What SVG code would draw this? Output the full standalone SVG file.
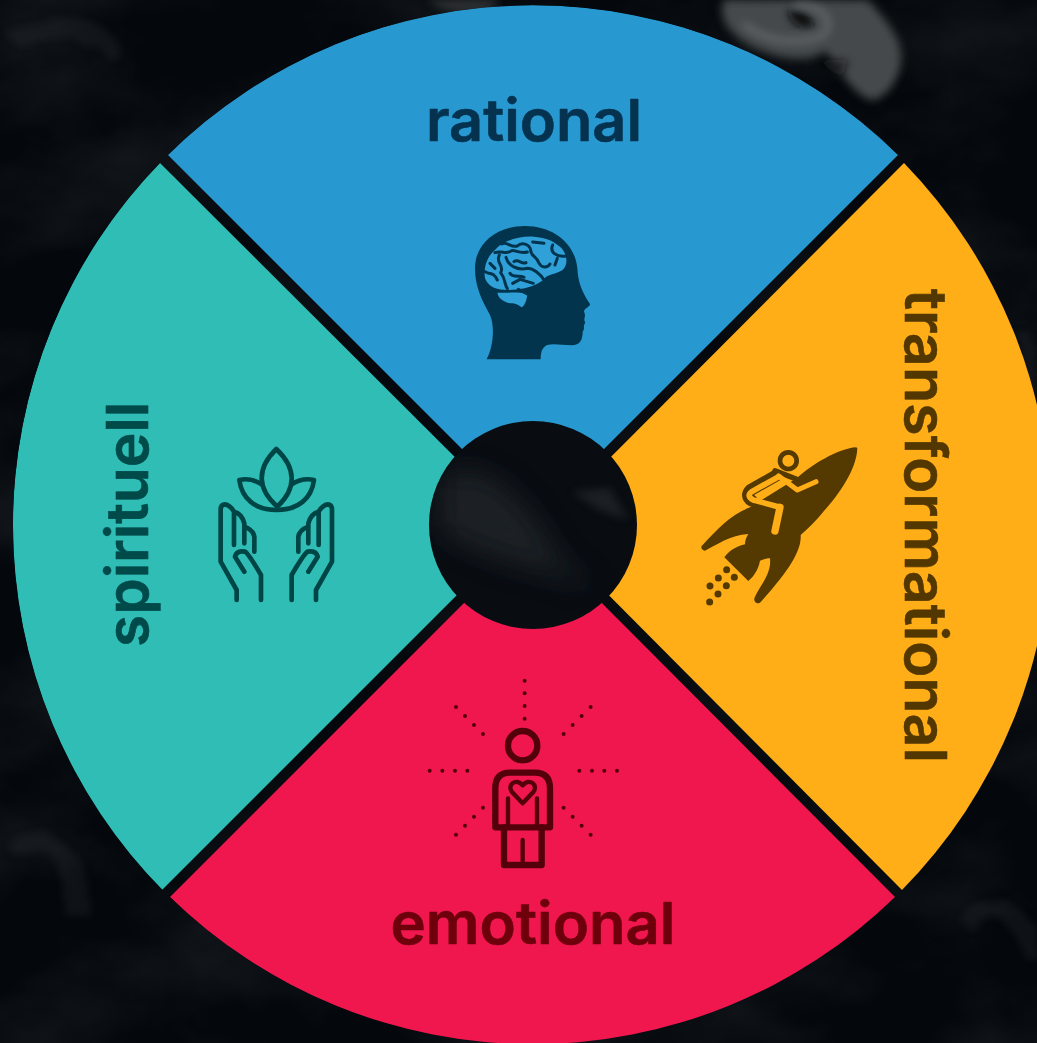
<svg xmlns="http://www.w3.org/2000/svg" width="1037" height="1043" viewBox="0 0 1037 1043">
<style>
.lbl{font-family:"Inter","Liberation Sans",sans-serif;font-weight:600;font-size:58px;stroke-width:.6px;stroke-linejoin:round}
.ln{fill:none;stroke-linecap:round;stroke-linejoin:round}
.smoke{fill:none;stroke:#8a9094;stroke-linecap:round}
</style>
<defs>
<filter id="fog" x="0" y="0" width="100%" height="100%"><feTurbulence type="fractalNoise" baseFrequency="0.006 0.009" numOctaves="5" seed="11"/><feColorMatrix values="0 0 0 0 0.62 0 0 0 0 0.66 0 0 0 0 0.7 0.7 0 0 0 -0.28"/></filter>
<filter id="wisp" x="-20%" y="-20%" width="140%" height="140%"><feTurbulence type="fractalNoise" baseFrequency="0.025" numOctaves="3" seed="4" result="n"/><feDisplacementMap in="SourceGraphic" in2="n" scale="22" xChannelSelector="R" yChannelSelector="G"/><feGaussianBlur stdDeviation="3.5"/></filter>
<filter id="soft" x="-20%" y="-20%" width="140%" height="140%"><feGaussianBlur stdDeviation="4"/></filter>
<filter id="softer" x="-30%" y="-30%" width="160%" height="160%"><feGaussianBlur stdDeviation="14"/></filter>
<clipPath id="disc"><circle cx="533" cy="525" r="520"/></clipPath>
<clipPath id="hubclip"><circle cx="533" cy="525" r="104"/></clipPath>
</defs>
<g id="background">
<rect width="1037" height="1043" fill="#04080c"/>
<rect width="1037" height="1043" filter="url(#fog)" opacity=".22"/>
<path filter="url(#soft)" fill="#45484b" d="M724,0C716,22 735,42 770,54C790,60 815,62 826,50L836,70C850,82 860,100 875,100C895,92 910,60 895,35C885,18 875,8 868,0Z"/>
<g filter="url(#soft)">
<path fill="#07090c" d="M788,12C795,4 815,14 814,26C808,32 790,26 788,12Z"/>
<path fill="#0a0c10" d="M815,60L848,60L842,78Z" opacity=".7"/>
<path class="smoke" stroke-width="5" stroke="#64696e" opacity=".5" d="M745,25C770,44 800,44 822,36C836,26 825,4 797,4"/>
</g>
<path filter="url(#soft)" fill="#3a3d40" opacity=".75" d="M428,0Q450,18 490,10L500,0Z"/>
<g filter="url(#wisp)" fill="none" stroke="#3a3e44" stroke-width="18" opacity=".2">
<path d="M965,925C1000,895 1030,910 1030,960"/>
<path d="M10,850C50,825 85,865 75,915"/>
<path d="M1026,335L1032,395"/>
<path d="M10,40C50,20 110,30 115,60"/>
</g>
</g>
<g id="rational">
<path d="M168,155A520,520 0 0 1 898,155L533,520Z" fill="#2799d0" clip-path="url(#disc)"/>
<text class="lbl" x="534" y="141" text-anchor="middle" textLength="216" lengthAdjust="spacingAndGlyphs" fill="#04324f" stroke="#04324f">rational</text>
<g transform="translate(440 200) scale(.3333)">
<path fill="#03344e" d="M140,478C160,440 165,380 150,345C125,300 105,260 105,205C105,130 170,78 255,78C340,78 405,130 412,205C414,245 425,275 450,312C452,320 432,325 432,335C440,350 428,355 436,368C428,378 436,385 428,395C428,420 420,435 395,436C370,436 340,430 322,435C305,442 302,460 302,478Z"/>
<path fill="#2fa0d8" d="M135,235C130,205 140,170 165,150C185,125 230,108 280,110C320,112 345,125 365,145C382,165 385,195 368,210C345,225 320,222 310,240C290,255 260,265 235,268C200,272 150,275 135,235Z"/>
<path fill="#2fa0d8" d="M172,278C200,280 220,275 262,280C262,295 255,318 245,322C235,315 230,310 210,310C190,305 175,295 172,278Z"/>
<path class="ln" stroke="#03344e" stroke-width="9" d="M185,132C200,122 212,145 232,138C245,125 268,132 272,150C270,168 292,170 296,188C305,205 322,205 330,192M338,135C328,158 352,172 378,168M278,126L312,130M345,195L352,175M165,158C185,150 198,165 215,152C228,150 238,162 262,156M178,165C165,190 195,195 182,218C198,238 192,252 202,266M198,172C205,198 232,212 262,205C280,205 302,222 312,240M222,185C235,175 245,195 258,188M135,215C150,226 158,212 172,240M210,220C218,235 240,225 252,232M218,250L240,238L280,250M235,268L262,282M150,190L165,205"/>
</g>
</g>
<g id="transformational">
<path d="M904,163A520,520 0 0 1 902,890L541,527Z" fill="#ffae17" clip-path="url(#disc)"/>
<text class="lbl" transform="translate(905 289) rotate(90)" textLength="474" lengthAdjust="spacingAndGlyphs" fill="#523700" stroke="#523700">transformational</text>
<g transform="translate(680 430) scale(.3333)">
<path fill="#543900" d="M532,55C530,110 490,180 430,245C410,270 385,295 362,315C365,360 330,420 240,518C228,525 218,512 225,500C245,460 275,430 270,385C260,385 250,388 240,392C235,420 220,440 205,453L133,382C145,365 165,350 195,343C195,330 200,320 205,312C150,315 110,345 75,362C65,362 60,350 68,345C110,300 150,255 210,232L350,145C400,100 470,60 525,52Q532,52 532,55Z"/>
<path class="ln" stroke="#543900" stroke-width="36" d="M290,136L212,180Q195,198 215,212"/>
<path class="ln" stroke="#543900" stroke-width="16" d="M285,122L350,148"/>
<path class="ln" stroke="#ffae17" stroke-width="17" d="M296,140L215,185Q198,198 220,210L300,232"/>
<path class="ln" stroke="#ffae17" stroke-width="22" d="M300,232L285,303"/>
<path class="ln" stroke="#ffae17" stroke-width="15" d="M296,138L352,180L408,155"/>
<circle cx="325" cy="92" r="25" fill="#ffae17" stroke="#543900" stroke-width="14"/>
<g fill="#543900"><circle cx="140" cy="419" r="10.5"/><circle cx="115" cy="444" r="10.5"/><circle cx="163" cy="442" r="10.5"/><circle cx="90" cy="468" r="10.5"/><circle cx="139" cy="467" r="10.5"/><circle cx="114" cy="492" r="10.5"/><circle cx="89" cy="516" r="10.5"/></g>
</g>
</g>
<g id="emotional">
<path d="M170,897A520,520 0 0 0 895,897L533,534Z" fill="#f0174e" clip-path="url(#disc)"/>
<text class="lbl" x="533" y="944" text-anchor="middle" textLength="285" lengthAdjust="spacingAndGlyphs" fill="#6e000c" stroke="#6e000c">emotional</text>
<g transform="translate(410 670) scale(.3333)">
<g class="ln" stroke="#54000a" stroke-width="19">
<circle cx="338" cy="227" r="44"/>
<path d="M256,472V355Q256,308 300,308H375Q420,308 420,355V472Z"/>
<path stroke-width="13" d="M294,385V465M381,385V465M338,510V580"/>
<path d="M282,472V585H395V472"/>
<path stroke-width="13" d="M338,400L306,366C290,345 318,322 338,346C358,322 386,345 370,366Z"/>
</g>
<g fill="#54000a">
<circle cx="344" cy="32" r="6"/><circle cx="344" cy="70" r="6"/><circle cx="344" cy="108" r="6"/><circle cx="344" cy="146" r="6"/>
<circle cx="138" cy="111" r="6"/><circle cx="165" cy="138" r="6"/><circle cx="192" cy="165" r="6"/><circle cx="219" cy="192" r="6"/>
<circle cx="542" cy="111" r="6"/><circle cx="515" cy="138" r="6"/><circle cx="488" cy="165" r="6"/><circle cx="461" cy="192" r="6"/>
<circle cx="59" cy="302" r="6"/><circle cx="97" cy="302" r="6"/><circle cx="135" cy="302" r="6"/><circle cx="172" cy="302" r="6"/>
<circle cx="508" cy="302" r="6"/><circle cx="546" cy="302" r="6"/><circle cx="583" cy="302" r="6"/><circle cx="621" cy="302" r="6"/>
<circle cx="219" cy="413" r="6"/><circle cx="192" cy="440" r="6"/><circle cx="165" cy="467" r="6"/><circle cx="138" cy="494" r="6"/>
<circle cx="461" cy="413" r="6"/><circle cx="488" cy="440" r="6"/><circle cx="515" cy="467" r="6"/><circle cx="542" cy="494" r="6"/>
</g>
</g>
</g>
<g id="spirituell">
<path d="M160,163L525,527L162,890A520,520 0 0 1 160,163Z" fill="#2fbdb6" clip-path="url(#disc)"/>
<text class="lbl" transform="translate(148 647) rotate(-90)" textLength="245" lengthAdjust="spacingAndGlyphs" fill="#004a4a" stroke="#004a4a">spirituell</text>
<g transform="translate(200 435) scale(.3333)">
<g class="ln" stroke="#004545" stroke-width="14">
<path d="M229,42C170,100 170,160 232,215C290,160 290,100 229,42Z"/>
<path d="M185,148C165,135 140,130 118,135C125,190 165,225 230,225C295,225 335,190 342,135C320,130 295,135 275,148"/>
<path d="M110,495V465L62,380V225Q62,208 75,208Q90,210 102,230V330M102,230Q125,235 133,265V325M133,275Q160,285 163,305V350M133,410L105,365Q110,345 135,350Q145,355 183,420V495"/>
<path transform="translate(458 0) scale(-1 1)" d="M110,495V465L62,380V225Q62,208 75,208Q90,210 102,230V330M102,230Q125,235 133,265V325M133,275Q160,285 163,305V350M133,410L105,365Q110,345 135,350Q145,355 183,420V495"/>
</g>
</g>
</g>
<g id="hub">
<circle cx="533" cy="525" r="104" fill="#090d12"/>
<g clip-path="url(#hubclip)">
<path filter="url(#softer)" fill="#23272c" opacity=".8" d="M440,480C480,450 530,500 560,560L600,590C550,570 480,560 440,530Z"/>
<g filter="url(#soft)" opacity=".4"><path fill="#3a3e43" d="M572,492L610,488L628,520L600,510Z"/></g>
</g>
</g>
</svg>
